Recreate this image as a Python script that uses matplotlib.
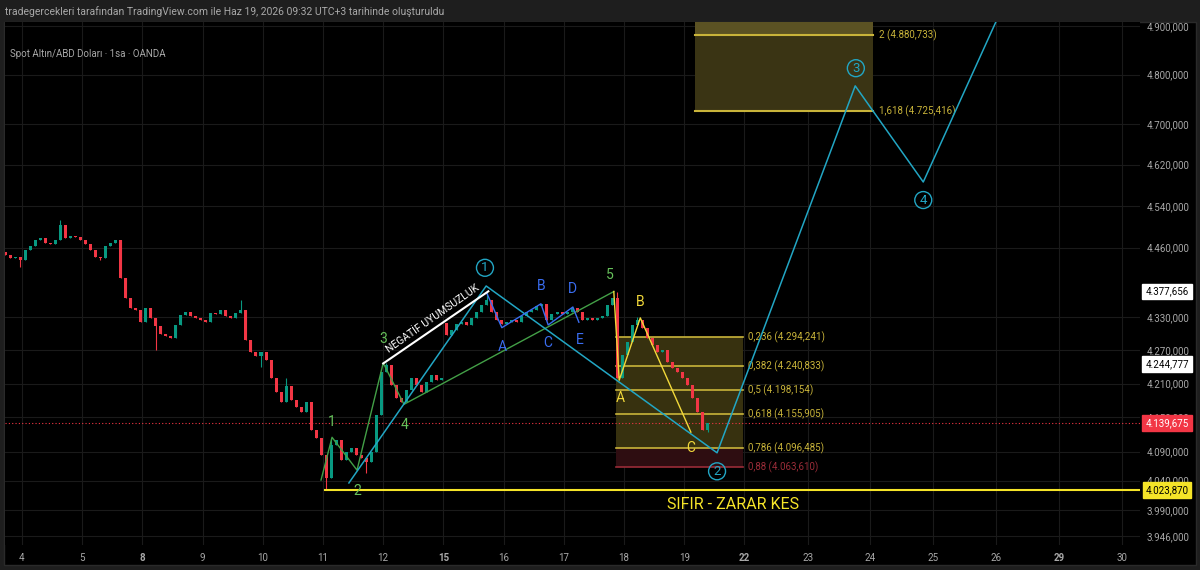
import matplotlib
matplotlib.use("Agg")
from matplotlib import pyplot as plt
from matplotlib.ticker import NullLocator, NullFormatter
from matplotlib.patches import Rectangle
import matplotlib.transforms as mtransforms

plt.rcParams['font.family'] = ['Roboto', 'DejaVu Sans']

# ---- axes data ----
price_ticks = [3946, 3990, 4040, 4090, 4150, 4210, 4270, 4330, 4460, 4540, 4620, 4700, 4800, 4900]
day_labels = ['4', '5', '8', '9', '10', '11', '12', '15', '16', '17', '18', '19',
              '22', '23', '24', '25', '26', '29', '30']
day_pos = [0, 1, 2, 3, 4, 5, 6, 7, 8, 9, 10, 11, 12, 13.06, 14.09, 15.13, 16.18, 17.23, 18.27]
bold_days = ['8', '15', '22', '29']

# ---- candles (2h bars) ----
bar_start = -0.28
bar_step = 1 / 12
first_open = 4452
closes = [4446, 4441, 4443, 4437, 4456, 4464, 4475, 4479, 4469, 4467,
          4475, 4503, 4479, 4482, 4480, 4475, 4466, 4456, 4443, 4441,
          4464, 4469, 4475, 4403, 4366, 4347, 4343, 4321, 4347, 4329,
          4314, 4300, 4296, 4293, 4316, 4334, 4340, 4332, 4329, 4325,
          4321, 4338, 4336, 4343, 4332, 4329, 4338, 4343, 4289, 4266,
          4259, 4266, 4252, 4220, 4195, 4177, 4205, 4181, 4168, 4159,
          4177, 4128, 4114, 4084, 4044, 4101, 4110, 4076, 4090, 4097,
          4084, 4079, 4072, 4090, 4154, 4230, 4243, 4207, 4184, 4177,
          4198, 4220, 4207, 4195, 4212, 4225, 4216, 4220, 4298, 4307,
          4318, 4321, 4316, 4329, 4340, 4352, 4362, 4340, 4325, 4318,
          4321, 4325, 4321, 4332, 4340, 4343, 4351, 4355, 4325, 4336,
          4340, 4336, 4340, 4347, 4340, 4325, 4329, 4325, 4329, 4332,
          4352, 4366, 4220, 4261, 4285, 4316, 4325, 4311, 4293, 4280,
          4266, 4270, 4248, 4238, 4230, 4220, 4207, 4184, 4159, 4128,
          4139.675]
open_override = {88: 4320}
high_override = {11: 4513, 47: 4362, 56: 4220, 65: 4114, 76: 4247, 96: 4375,
                 122: 4377.656, 126: 4330}
low_override = {3: 4424, 19: 4436, 30: 4270, 51: 4239, 64: 4023.87, 72: 4053, 140: 4124}

# ---- wave drawings ----
green_x = [4.967, 5.15, 5.565, 6.0, 6.345, 9.83]
green_y = [4041, 4115, 4058, 4247, 4173, 4377.656]
green_labels = [('1', 5.15, 4141), ('2', 5.565, 4022), ('3', 6.0, 4291),
                ('4', 6.36, 4136), ('5', 9.77, 4408)]

cyan_x = [5.43, 7.71, 11.545, 13.84, 14.97, 16.2]
cyan_y = [4036, 4388, 4088, 4777, 4586, 4915]
cyan_labels = [('1', 7.69, 4422), ('2', 11.545, 4056), ('3', 13.85, 4813), ('4', 14.97, 4551)]

blue_x = [7.72, 7.97, 8.62, 8.74, 9.15, 9.25]
blue_y = [4375, 4311, 4355, 4316, 4349, 4321]
blue_labels = [('A', 7.97, 4276), ('B', 8.62, 4388), ('C', 8.74, 4283),
               ('D', 9.15, 4383), ('E', 9.27, 4289)]

abc_x = [9.83, 9.92, 10.27, 11.11]
abc_y = [4377.656, 4216, 4329, 4124]
abc_labels = [('A', 9.93, 4184), ('B', 10.27, 4358), ('C', 11.10, 4096)]

div_x = [6.0, 7.746]
div_y = [4246, 4378]

# fib retracement
fib_ratios = ['0,236', '0,382', '0,5', '0,618', '0,786', '0,88']
fib_prices = [4294.241, 4240.833, 4198.154, 4155.905, 4096.485, 4063.610]
fib_x0, fib_x1 = 9.87, 11.98
# fib extension
ext_ratios = ['2', '1,618']
ext_prices = [4880.733, 4725.416]
ext_x0, ext_x1 = 11.18, 14.14

stop_price = 4023.87
stop_start = 5.03
last_price = 4139.675
tags = [(4377.656, '#ffffff', '#000000'), (4244.777, '#ffffff', '#000000'),
        (4139.675, '#f23645', '#ffffff'), (4023.870, '#f5e428', '#000000')]


def tr_num(v):
    s = f"{v:,.3f}"
    return s.replace(',', '#').replace('.', ',').replace('#', '.')


up_c, dn_c = '#089981', '#f23645'
green_c, green_t = '#43a047', '#66c05a'
cyan_c = '#22a6c4'
blue_c = '#3a6df0'
yel_c = '#f2d93a'
fib_c = '#c9b43a'
fib_red = '#9a2c38'

fig = plt.figure(figsize=(12, 5.7), dpi=100)
fig.patch.set_facecolor('#1e1e1e')
fig.add_artist(Rectangle((4 / 1200, 5 / 570), 1192 / 1200, 543 / 570, transform=fig.transFigure,
                         facecolor='black', edgecolor='#2a2a2a', lw=1, zorder=0))
fig.text(5 / 1200, 1 - 12 / 570,
         "tradegercekleri tarafından TradingView.com ile Haz 19, 2026 09:32 UTC+3 tarihinde oluşturuldu",
         color='#a8a8a8', fontsize=7.5, va='center', ha='left')

ax = fig.add_axes([5 / 1200, 25 / 570, 1135 / 1200, 523 / 570])
ax.set_facecolor('black')
for s in ax.spines.values():
    s.set_visible(False)
ax.set_yscale('log')
ax.set_ylim(3931.1, 4908.3)
ax.set_xlim(-0.282, 18.57)
ax.yaxis.tick_right()
ax.set_yticks(price_ticks)
ax.set_yticklabels([tr_num(v) for v in price_ticks])
ax.yaxis.set_minor_locator(NullLocator())
ax.yaxis.set_minor_formatter(NullFormatter())
ax.set_xticks(day_pos)
ax.set_xticklabels(day_labels)
for lab in ax.get_xticklabels():
    if lab.get_text() in bold_days:
        lab.set_fontweight('bold')
        lab.set_color('#d8d8d8')
ax.tick_params(axis='both', length=0, colors='#a8a8a8', labelsize=7)
ax.tick_params(axis='y', pad=5)
ax.tick_params(axis='x', pad=6)
ax.grid(True, color='#1a1a1a', lw=0.8)
ax.set_axisbelow(True)

ax.text(0.004, 4842, "Spot Altın/ABD Doları · 1sa · OANDA",
        transform=mtransforms.blended_transform_factory(ax.transAxes, ax.transData),
        color='#a8a8a8', fontsize=7, va='center')

# candles
xs, lows, highs, bots, hts, cols = [], [], [], [], [], []
prev = first_open
for k, c in enumerate(closes):
    o = open_override.get(k, prev)
    x = bar_start + k * bar_step
    hi = high_override.get(k, max(o, c))
    lo = low_override.get(k, min(o, c))
    xs.append(x)
    highs.append(hi)
    lows.append(lo)
    bots.append(min(o, c))
    hts.append(max(abs(c - o), 0.6))
    cols.append(up_c if c >= o else dn_c)
    prev = c
ax.vlines(xs, lows, highs, colors=cols, lw=0.8, zorder=3)
ax.bar(xs, hts, bottom=bots, width=0.05, color=cols, zorder=3)

# fib retracement box
for i in range(len(fib_prices) - 1):
    fc = '#2e0d11' if i == len(fib_prices) - 2 else '#37310f'
    ax.fill_between([fib_x0, fib_x1], fib_prices[i + 1], fib_prices[i], color=fc, lw=0, zorder=1)
for r, p in zip(fib_ratios, fib_prices):
    col = fib_red if r == '0,88' else fib_c
    ax.plot([fib_x0, fib_x1], [p, p], color=col, lw=1.2, zorder=2)
    ax.text(fib_x1 + 0.08, p, f"{r} ({tr_num(p)})", color=col, fontsize=7, va='center', ha='left')

# fib extension box
ax.fill_between([ext_x0, ext_x1], ext_prices[0], 4960, color='#5b5223', lw=0, zorder=1)
ax.fill_between([ext_x0, ext_x1], ext_prices[1], ext_prices[0], color='#3a3414', lw=0, zorder=1)
for r, p in zip(ext_ratios, ext_prices):
    ax.plot([ext_x0, ext_x1], [p, p], color=fib_c, lw=1.5, zorder=2)
    ax.text(ext_x1 + 0.1, p, f"{r} ({tr_num(p)})", color=fib_c, fontsize=7, va='center', ha='left')

# stop line & current price
ax.plot([stop_start, 18.6], [stop_price, stop_price], color='#f5e428', lw=1.5, zorder=4)
ax.text(11.81, 3999, "SIFIR - ZARAR KES", color='#f5e428', fontsize=11.5, ha='center', va='center')
ax.axhline(last_price, color='#f23645', ls=(0, (1, 2)), lw=0.8, zorder=2)

# waves
ax.plot(green_x, green_y, color=green_c, lw=1, zorder=5)
for t, x, y in green_labels:
    ax.text(x, y, t, color=green_t, fontsize=10, ha='center', va='center', zorder=6)
ax.plot(cyan_x, cyan_y, color=cyan_c, lw=1.1, zorder=5)
for t, x, y in cyan_labels:
    ax.text(x, y, t, color=cyan_c, fontsize=9.5, ha='center', va='center', zorder=6,
            bbox=dict(boxstyle='circle,pad=0.15', fc='none', ec=cyan_c, lw=1))
ax.plot(blue_x, blue_y, color=blue_c, lw=1, zorder=5)
for t, x, y in blue_labels:
    ax.text(x, y, t, color=blue_c, fontsize=10, ha='center', va='center', zorder=6)
ax.plot(abc_x, abc_y, color=yel_c, lw=1, zorder=5)
for t, x, y in abc_labels:
    ax.text(x, y, t, color=yel_c, fontsize=10, ha='center', va='center', zorder=6)
ax.plot(div_x, div_y, color='white', lw=1.5, zorder=5)
ax.text(6.82, 4327, "NEGATİF UYUMSUZLUK", color='white', fontsize=7.5, rotation=35,
        rotation_mode='anchor', ha='center', va='center', zorder=6)

# price tags on right scale
trans = mtransforms.blended_transform_factory(ax.transAxes, ax.transData)
for p, fc, tc in tags:
    ax.text(1.0238, p, tr_num(p), transform=trans, ha='center', va='center', fontsize=7,
            color=tc, clip_on=False, zorder=10,
            bbox=dict(boxstyle='square,pad=0.3', fc=fc, ec=fc))

fig.savefig('out.png', dpi=100, facecolor=fig.get_facecolor())
